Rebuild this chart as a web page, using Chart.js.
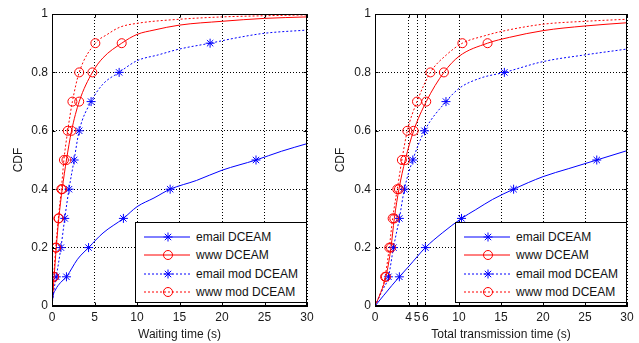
<!DOCTYPE html>
<html>
<head>
<meta charset="utf-8">
<script src="https://cdn.jsdelivr.net/npm/chart.js@4.4.1/dist/chart.umd.min.js"></script>
<style>
    html, body { margin: 0; padding: 0; background: #fff; }
    #wrap { position: relative; width: 639px; height: 343px; overflow: hidden; }
    canvas { position: absolute; top: 0; }
    .legend {
        position: absolute; box-sizing: border-box; width: 172px; height: 81px;
        border: 1px solid #000; background: #fff; padding-top: 5px;
        font: 12px "Liberation Sans", Arial, sans-serif; color: #111;
    }
    .row { position: relative; height: 18.3px; }
    .row svg { position: absolute; left: 8px; top: 0; }
    .row span { position: absolute; left: 60px; top: 0; line-height: 18px; white-space: nowrap; }
</style>
</head>
<body>
<div id="wrap">
    <canvas id="wait-chart" width="320" height="343" style="left:0"></canvas>
    <canvas id="total-chart" width="319" height="343" style="left:320px"></canvas>
    <div class="legend" id="wait-legend" style="left:135px;top:222px"></div>
    <div class="legend" id="total-legend" style="left:455px;top:222px"></div>
</div>
<script>
// 刻度
const yTicks = [0, 0.2, 0.4, 0.6, 0.8, 1];
const waitTicks = [0, 5, 10, 15, 20, 25, 30];
const totalTicks = [0, 4, 5, 6, 10, 15, 20, 25, 30];
const markLevels = [0.1, 0.2, 0.3, 0.4, 0.5, 0.6, 0.7, 0.8, 0.9];
const seriesNames = ['email DCEAM', 'www DCEAM', 'email mod DCEAM', 'www mod DCEAM'];

// Waiting time (s)
const waitEmailT = [0, 0.1, 0.4, 1.0, 1.7, 3.0, 4.3, 6.0, 8.4, 10, 12, 13.9, 17, 20, 24, 27, 30];
const waitEmailP = [0, 0.03, 0.055, 0.08, 0.1, 0.16, 0.2, 0.25, 0.3, 0.34, 0.37, 0.4, 0.43, 0.465, 0.5, 0.53, 0.556];
const waitWwwT = [0, 0.25, 0.5, 0.8, 1.2, 1.7, 2.3, 3.2, 4.75, 6.0, 8.2, 10, 12, 15, 20, 25, 30];
const waitWwwP = [0, 0.1, 0.2, 0.3, 0.4, 0.5, 0.6, 0.7, 0.8, 0.85, 0.9, 0.93, 0.945, 0.962, 0.975, 0.985, 0.99];
const waitEmailModT = [0, 0.2, 0.5, 1.05, 1.5, 2.0, 2.6, 3.2, 4.6, 6.0, 7.9, 10, 12.5, 15, 18.6, 22, 25, 30];
const waitEmailModP = [0, 0.05, 0.1, 0.2, 0.3, 0.4, 0.5, 0.6, 0.7, 0.76, 0.8, 0.84, 0.86, 0.88, 0.9, 0.92, 0.934, 0.945];
const waitWwwModT = [0, 0.2, 0.45, 0.75, 1.1, 1.4, 1.85, 2.4, 3.2, 5.1, 6.5, 8, 10, 15, 20, 25, 30];
const waitWwwModP = [0, 0.1, 0.2, 0.3, 0.4, 0.5, 0.6, 0.7, 0.8, 0.9, 0.93, 0.955, 0.968, 0.982, 0.99, 0.994, 0.997];

// Total transmission time (s)
const totEmailT = [0, 1, 2, 2.9, 4, 6.0, 8, 10.3, 12, 14, 16.5, 20, 23, 26.4, 30];
const totEmailP = [0, 0.035, 0.07, 0.1, 0.135, 0.2, 0.25, 0.3, 0.33, 0.365, 0.4, 0.443, 0.47, 0.5, 0.532];
const totWwwT = [0, 0.6, 1.3, 1.9, 2.3, 2.85, 3.6, 4.6, 6.1, 8.2, 10, 13.4, 16, 20, 25, 30];
const totWwwP = [0, 0.04, 0.1, 0.2, 0.3, 0.4, 0.5, 0.6, 0.7, 0.8, 0.855, 0.9, 0.92, 0.943, 0.959, 0.97];
const totEmailModT = [0, 0.8, 1.6, 2.2, 2.9, 3.5, 4.5, 5.9, 8.45, 10, 12.5, 15.4, 20, 25, 30];
const totEmailModP = [0, 0.05, 0.1, 0.2, 0.3, 0.4, 0.5, 0.6, 0.7, 0.745, 0.78, 0.8, 0.837, 0.86, 0.88];
const totWwwModT = [0, 0.6, 1.2, 1.7, 2.1, 2.65, 3.2, 3.85, 5.0, 6.6, 8.5, 10.4, 13, 15, 20, 25, 30];
const totWwwModP = [0, 0.04, 0.1, 0.2, 0.3, 0.4, 0.5, 0.6, 0.7, 0.8, 0.86, 0.9, 0.925, 0.94, 0.965, 0.975, 0.982];

const FONT = '"Liberation Sans", Arial, sans-serif';
const TEXT = '#1a1a1a';
const BLUE = '#0000ff';
const RED = '#ff0000';
const styles = [
    { color: BLUE, dotted: false, marker: 'star' },
    { color: RED, dotted: false, marker: 'circle' },
    { color: BLUE, dotted: true, marker: 'star' },
    { color: RED, dotted: true, marker: 'circle' },
];

function isMark(v) {
    return markLevels.some(l => Math.abs(v - l) < 1e-9);
}

function makeDataset(i, t, p) {
    const s = styles[i];
    return {
        label: seriesNames[i],
        data: t.map((x, k) => ({ x, y: p[k] })),
        borderColor: s.color,
        borderWidth: 1,
        borderDash: s.dotted ? [2, 2] : [],
        cubicInterpolationMode: 'monotone',
        pointStyle: s.marker,
        pointRadius: ctx => (ctx.raw && isMark(ctx.raw.y) ? 4.5 : 0),
        pointBorderColor: s.color,
        pointBackgroundColor: 'rgba(0,0,0,0)',
        pointBorderWidth: 1,
    };
}

// 画 MATLAB 风格的外框和内侧刻度
const boxPlugin = {
    id: 'box',
    afterDatasetsDraw(chart) {
        const { ctx, chartArea: a, scales: { x, y } } = chart;
        const l = Math.round(a.left) + 0.5, r = Math.round(a.right) - 0.5;
        const t = Math.round(a.top) + 0.5, b = Math.round(a.bottom) - 0.5;
        ctx.save();
        ctx.strokeStyle = '#000';
        ctx.lineWidth = 1;
        ctx.setLineDash([]);
        ctx.strokeRect(l, t, r - l, b - t);
        ctx.beginPath();
        x.ticks.forEach(tk => {
            const px = Math.round(x.getPixelForValue(tk.value)) + 0.5;
            ctx.moveTo(px, b); ctx.lineTo(px, b - 3);
            ctx.moveTo(px, t); ctx.lineTo(px, t + 3);
        });
        y.ticks.forEach(tk => {
            const py = Math.round(y.getPixelForValue(tk.value)) + 0.5;
            ctx.moveTo(l, py); ctx.lineTo(l + 3, py);
            ctx.moveTo(r, py); ctx.lineTo(r - 3, py);
        });
        ctx.stroke();
        ctx.restore();
    },
};

function makeChart(id, datasets, xTicks, xTitle, yWidth, rightPad, cdfPad) {
    return new Chart(document.getElementById(id).getContext('2d'), {
        type: 'line',
        data: { datasets },
        plugins: [boxPlugin],
        options: {
            responsive: false,
            animation: false,
            devicePixelRatio: 1,
            layout: { padding: { top: 14, right: rightPad, bottom: 0, left: 0 } },
            plugins: { legend: { display: false }, tooltip: { enabled: false } },
            scales: {
                x: {
                    type: 'linear',
                    min: 0,
                    max: 30,
                    afterBuildTicks: s => { s.ticks = xTicks.map(v => ({ value: v })); },
                    afterFit: s => { s.height = 37; },
                    ticks: {
                        autoSkip: false, maxRotation: 0, padding: 4,
                        font: { family: FONT, size: 12 }, color: TEXT,
                        callback: v => String(v),
                    },
                    grid: { color: '#000', lineWidth: 1, drawTicks: false },
                    border: { display: true, color: '#000', dash: [1, 2] },
                    title: {
                        display: true, text: xTitle, color: TEXT,
                        font: { family: FONT, size: 12 },
                        padding: { top: 0, bottom: 1 },
                    },
                },
                y: {
                    min: 0,
                    max: 1,
                    afterBuildTicks: s => { s.ticks = yTicks.map(v => ({ value: v })); },
                    afterFit: s => { s.width = yWidth; },
                    ticks: {
                        padding: 4,
                        font: { family: FONT, size: 12 }, color: TEXT,
                        callback: v => String(v),
                    },
                    grid: { color: '#000', lineWidth: 1, drawTicks: false },
                    border: { display: true, color: '#000', dash: [1, 2] },
                    title: {
                        display: true, text: 'CDF', color: TEXT,
                        font: { family: FONT, size: 12 },
                        padding: { top: cdfPad, bottom: 0 },
                    },
                },
            },
        },
    });
}

function buildLegend(id) {
    const box = document.getElementById(id);
    styles.forEach((s, i) => {
        const row = document.createElement('div');
        row.className = 'row';
        const dash = s.dotted ? ' stroke-dasharray="2 2"' : '';
        let mark;
        if (s.marker === 'circle') {
            mark = `<circle cx="24" cy="9" r="4.5" fill="none" stroke="${s.color}"/>`;
        } else {
            mark = `<path d="M24 4.5V13.5M19.5 9H28.5M20.8 5.8L27.2 12.2M27.2 5.8L20.8 12.2" stroke="${s.color}"/>`;
        }
        row.innerHTML = `<svg width="48" height="18" viewBox="0 0 48 18">` +
            `<line x1="0" y1="9" x2="46" y2="9" stroke="${s.color}"${dash}/>${mark}</svg>` +
            `<span>${seriesNames[i]}</span>`;
        box.appendChild(row);
    });
}

makeChart('wait-chart', [
    makeDataset(0, waitEmailT, waitEmailP),
    makeDataset(1, waitWwwT, waitWwwP),
    makeDataset(2, waitEmailModT, waitEmailModP),
    makeDataset(3, waitWwwModT, waitWwwModP),
], waitTicks, 'Waiting time (s)', 52, 13, 11);

makeChart('total-chart', [
    makeDataset(0, totEmailT, totEmailP),
    makeDataset(1, totWwwT, totWwwP),
    makeDataset(2, totEmailModT, totEmailModP),
    makeDataset(3, totWwwModT, totWwwModP),
], totalTicks, 'Total transmission time (s)', 55, 12, 13);

buildLegend('wait-legend');
buildLegend('total-legend');
</script>
</body>
</html>
